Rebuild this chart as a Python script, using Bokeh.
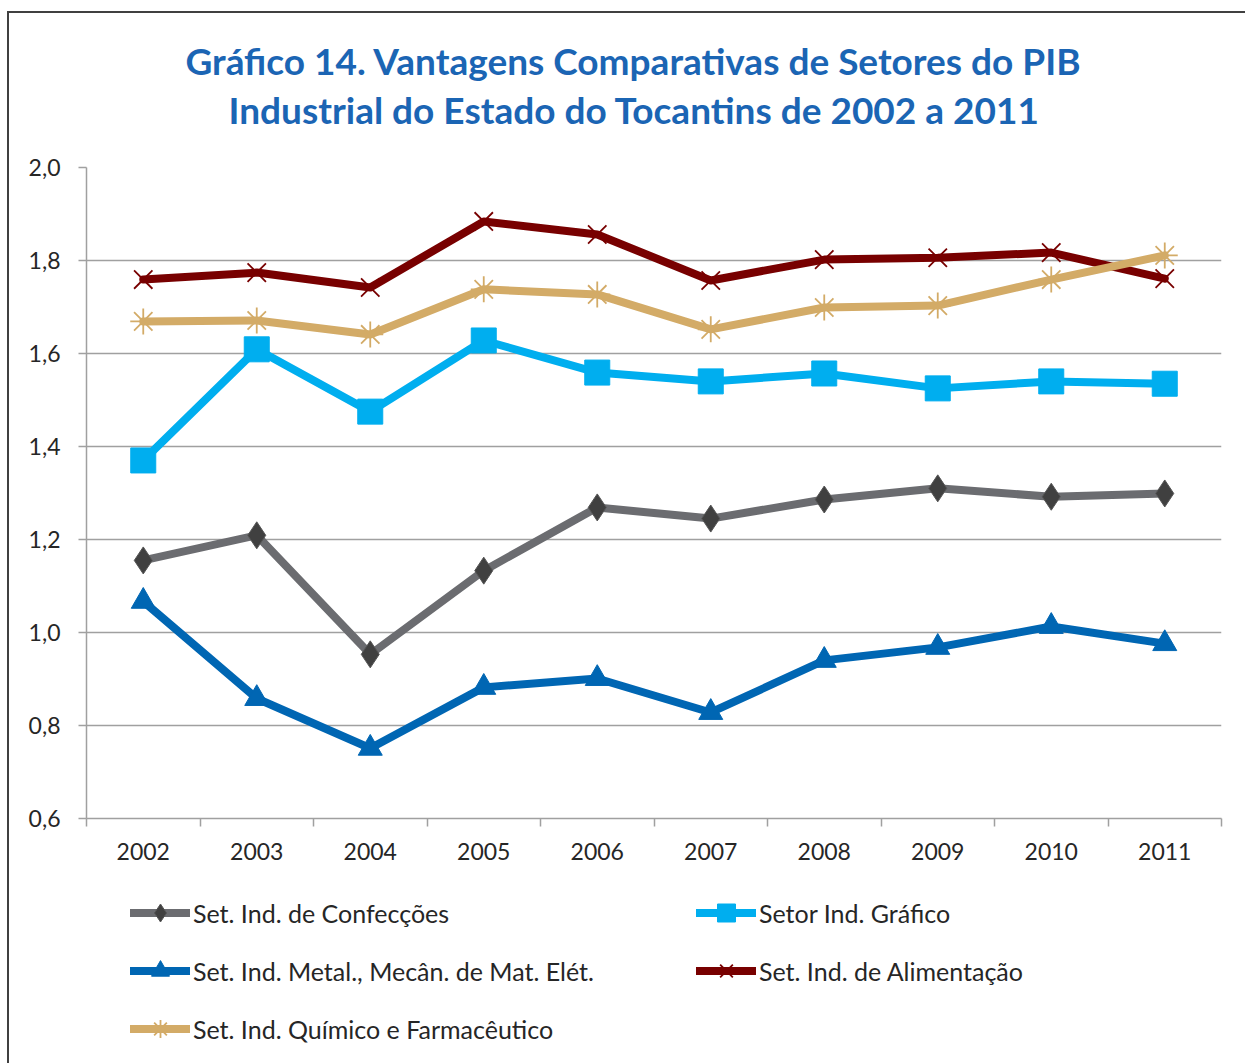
from bokeh.plotting import figure
from bokeh.models import (Range1d, FixedTicker, CustomJSTickFormatter, Legend, LegendItem, Title)
from bokeh.layouts import column
from bokeh.embed import file_html
from bokeh.resources import INLINE

# ---------------- data ----------------
years = [2002, 2003, 2004, 2005, 2006, 2007, 2008, 2009, 2010, 2011]
confeccoes = [1.155, 1.209, 0.953, 1.133, 1.269, 1.245, 1.286, 1.310, 1.292, 1.299]
grafico = [1.370, 1.609, 1.475, 1.628, 1.559, 1.540, 1.557, 1.525, 1.540, 1.535]
metal = [1.067, 0.858, 0.751, 0.882, 0.901, 0.828, 0.940, 0.968, 1.013, 0.976]
alimentacao = [1.759, 1.774, 1.742, 1.884, 1.856, 1.757, 1.802, 1.806, 1.817, 1.761]
quimico = [1.669, 1.671, 1.641, 1.738, 1.727, 1.652, 1.699, 1.703, 1.759, 1.811]
y_ticks = [0.6, 0.8, 1.0, 1.2, 1.4, 1.6, 1.8, 2.0]
labels = ["Set. Ind. de Confecções", "Setor Ind. Gráfico",
          "Set. Ind. Metal., Mecân. de Mat. Elét.", "Set. Ind. de Alimentação",
          "Set. Ind. Químico e Farmacêutico"]
title_lines = ["Gráfico 14. Vantagens Comparativas de Setores do PIB",
               "Industrial do Estado do Tocantins de 2002 a 2011"]

FONT = "Lato"
GRID = "#A0A0A0"
TXT = "#262626"
BLUE_T = "#1B65B4"
W = 1236

# ---------------- title figure ----------------
tf = figure(width=W, height=140, output_backend="svg", toolbar_location=None,
            x_axis_location=None, y_axis_location=None,
            x_range=Range1d(0, 1), y_range=Range1d(0, 1),
            min_border_left=10, min_border_right=0, min_border_top=119, min_border_bottom=0)
tf.grid.visible = False
tf.outline_line_color = None
tf.title.text = title_lines[0]
tf.title.align = "left"
tf.title.offset = 99
tf.title.text_font = FONT
tf.title.text_font_size = "37px"
tf.title.text_font_style = "bold"
tf.title.text_color = BLUE_T
tf.title.standoff = 2
tf.add_layout(Title(text=title_lines[1], align="left", offset=142, text_font=FONT,
                    text_font_size="37px", text_font_style="bold",
                    text_color=BLUE_T, standoff=2), "above")

# ---------------- main figure ----------------
p = figure(width=W, height=725, output_backend="svg", toolbar_location=None,
           x_range=Range1d(2001.5, 2011.5), y_range=Range1d(0.6, 2.0),
           min_border_left=77, min_border_right=24, min_border_top=14,
           min_border_bottom=60)
p.outline_line_color = None

p.xaxis.ticker = FixedTicker(ticks=years, minor_ticks=[y - 0.5 for y in years] + [years[-1] + 0.5])
p.xaxis.formatter = CustomJSTickFormatter(code="return tick.toFixed(0)")
p.xaxis.major_tick_out = 0
p.xaxis.major_tick_in = 0
p.xaxis.minor_tick_out = 8
p.xaxis.minor_tick_in = 0
p.xaxis.minor_tick_line_color = GRID
p.xaxis.minor_tick_line_width = 1.5
p.xaxis.axis_line_color = GRID
p.xaxis.axis_line_width = 1.5
p.xaxis.major_label_text_font = FONT
p.xaxis.major_label_text_font_size = "23px"
p.xaxis.major_label_text_color = TXT
p.xaxis.major_label_standoff = 16

p.yaxis.ticker = FixedTicker(ticks=y_ticks)
p.yaxis.formatter = CustomJSTickFormatter(code="return tick.toFixed(1).replace('.', ',')")
p.yaxis.major_tick_out = 8
p.yaxis.major_tick_in = 0
p.yaxis.minor_tick_out = 0
p.yaxis.minor_tick_in = 0
p.yaxis.major_tick_line_color = GRID
p.yaxis.major_tick_line_width = 1.5
p.yaxis.axis_line_color = GRID
p.yaxis.axis_line_width = 1.5
p.yaxis.major_label_text_font = FONT
p.yaxis.major_label_text_font_size = "23px"
p.yaxis.major_label_text_color = TXT
p.yaxis.major_label_standoff = 18

p.xgrid.grid_line_color = None
p.ygrid.grid_line_color = GRID
p.ygrid.grid_line_width = 1.5

styles = [
    (confeccoes, "#6B6C70", "diamond", 27, "#404040", "#555555", 1),
    (grafico, "#00AEEF", "square", 25, "#00AEEF", "#00AEEF", 1),
    (metal, "#0066B3", "triangle", 24, "#0066B3", "#0066B3", 1),
    (alimentacao, "#780000", "x", 26, "#780000", "#780000", 1.8),
    (quimico, "#D3AB67", "asterisk", 26, "#D3AB67", "#D3AB67", 1.8),
]

# ---------------- legend figure ----------------
# same series drawn again, but outside this figure's visible range: only the
# legend swatches of these renderers show.
lf = figure(width=W, height=185, output_backend="svg", toolbar_location=None,
            x_axis_location=None, y_axis_location=None,
            x_range=Range1d(0, 1), y_range=Range1d(0, 1),
            min_border_left=0, min_border_right=0, min_border_top=0, min_border_bottom=0)
lf.grid.visible = False
lf.outline_line_color = None

items = []
for (vals, lc, mk, sz, fc, mlc, mlw), lab in zip(styles, labels):
    p.line(years, vals, line_color=lc, line_width=8, line_cap="round", line_join="round")
    p.scatter(years, vals, marker=mk, size=sz, fill_color=fc, line_color=mlc, line_width=mlw)
    k1 = lf.line(years, vals, line_color=lc, line_width=8, line_cap="round")
    k2 = lf.scatter(years, vals, marker=mk, size=sz, fill_color=fc, line_color=mlc,
                    line_width=mlw)
    items.append(LegendItem(label=lab, renderers=[k1, k2]))

legend = Legend(items=items, location=(44, 12), orientation="horizontal", ncols=2,
                glyph_width=60, glyph_height=45, spacing=13, label_standoff=3,
                label_width=490, padding=0, margin=0, border_line_color=None,
                background_fill_alpha=0, label_text_font=FONT,
                label_text_font_size="25px", label_text_color=TXT)
lf.add_layout(legend)

layout = column(tf, p, lf, spacing=0,
                styles={"margin-left": "7px", "margin-top": "11px",
                        "border-left": "2px solid #404040", "border-top": "2px solid #404040"})

open("out.html", "w").write(file_html(layout, INLINE))
